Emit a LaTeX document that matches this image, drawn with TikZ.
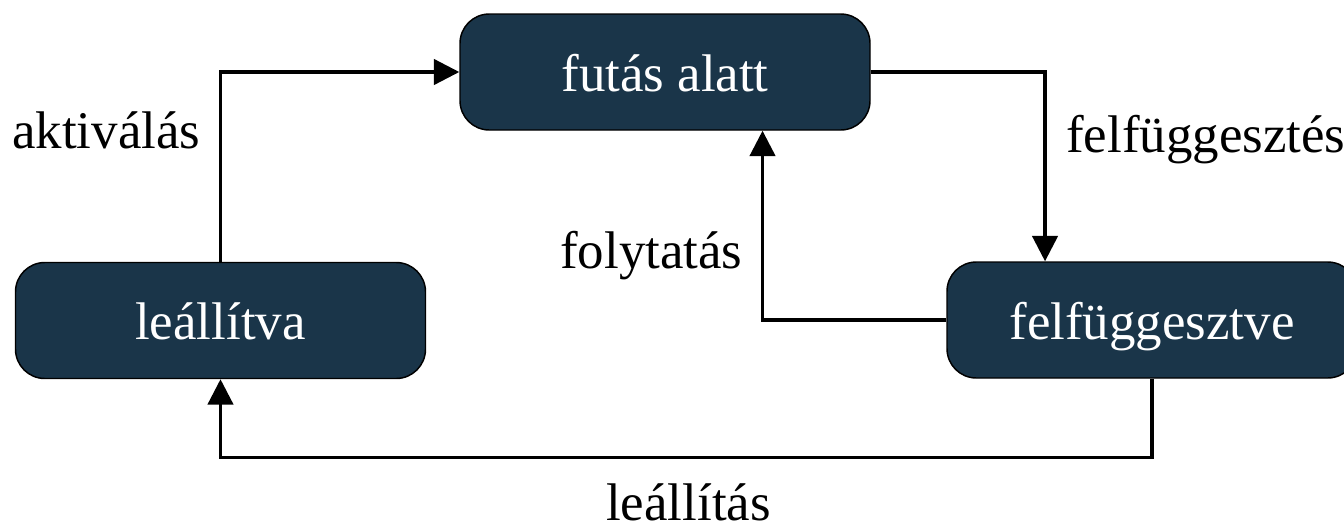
\documentclass[tikz,border=0pt]{standalone}
\usepackage{fontspec}
\setmainfont{Liberation Serif}
\usetikzlibrary{arrows.meta,calc}
\definecolor{boxfill}{HTML}{1A3549}
\tikzset{
  statebox/.style={draw=black, line width=1.1pt, fill=boxfill, rounded corners=22pt,
    minimum width=307.5pt, minimum height=87pt, inner sep=0pt, text=white,
    font=\fontsize{39.7}{46}\selectfont, text height=28.6pt, text depth=0pt},
  lbl/.style={font=\fontsize{39.7}{46}\selectfont, inner sep=0pt, anchor=base west},
  conn/.style={line width=2.4pt, -{Triangle[length=19pt,width=19pt]}}
}
\begin{document}
\begin{tikzpicture}[x=0.75pt,y=-0.75pt]
\useasboundingbox (0,0) rectangle (1344,526);
\node[statebox] (fut) at (665,72) {futás alatt};
\node[statebox] (lea) at (220.5,320.5) {leállítva};
\node[statebox] (fel) at (1152,320) {felfüggesztve};
\coordinate (fk) at ($(fel.north west)!0.24!(fel.north east)$);
\coordinate (fb) at ($(fut.south west)!0.737!(fut.south east)$);
\draw[conn] (lea.north) |- (fut.west);
\draw[conn] (fut.east) -| (fk);
\draw[conn] (fel.west) -| (fb);
\draw[conn] (fel.south) -- ++(0,79) -| (lea.south);
\node[lbl] (l1) at (12,148) {aktiválás};
\node[lbl] (l2) at (1066,152) {felfüggesztés};
\node[lbl] (l3) at (560,268) {folytatás};
\node[lbl] (l4) at (606,520) {leállítás};
\end{tikzpicture}
\end{document}
